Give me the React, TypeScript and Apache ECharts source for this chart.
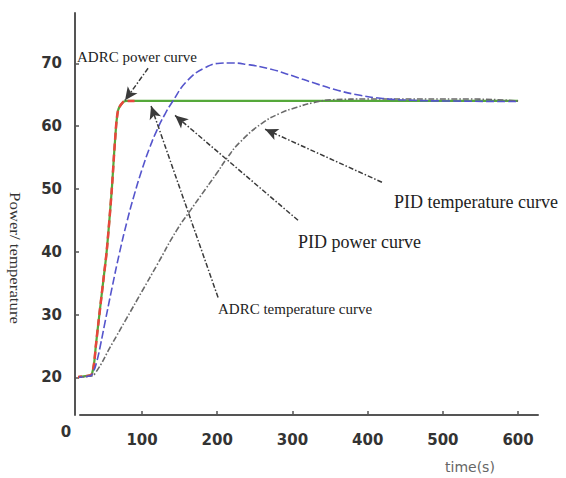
import React, { useEffect, useRef } from "react";
import * as echarts from "echarts";

// axis tick values
const xTickValues = [100, 200, 300, 400, 500, 600];
const yTickValues = [20, 30, 40, 50, 60, 70];

// ADRC temperature curve (green, solid)
const adrcTempT = [10.9, 30.9, 33.5, 36.2, 38.4, 41.9, 48.5, 53.1, 59.7, 64.1, 68.1, 74.7, 80, 200, 400, 600];
const adrcTempV = [20, 20.3, 20.6, 22.2, 24.8, 28.6, 35.4, 40.2, 49.8, 57.7, 62.5, 63.8, 64.0, 64.0, 64.0, 64.0];

// ADRC power curve (red, dashed)
const adrcPowT = [10.9, 30.9, 33.5, 36.2, 38.4, 41.9, 48.5, 53.1, 59.7, 64.1, 68.1, 74.7, 80, 90];
const adrcPowV = [20, 20.3, 20.6, 22.2, 24.8, 28.6, 35.4, 40.2, 49.8, 57.7, 62.5, 63.8, 64.0, 64.0];

// PID power curve (blue, dashed)
const pidPowT = [10.9, 30.9, 35, 40, 45, 50, 60, 70, 80, 90, 100, 110, 120, 130, 140, 160, 184, 204, 217, 240, 270, 300, 330, 360, 390, 420, 460, 500, 600];
const pidPowV = [20, 20.2, 20.8, 22.6, 25.3, 28.3, 34.2, 39.8, 44.8, 49.2, 53.1, 56.5, 59.4, 61.8, 63.8, 67.2, 69.3, 70.0, 70.05, 69.8, 69.1, 68.0, 66.8, 65.7, 64.9, 64.4, 64.1, 64.0, 63.9];

// PID temperature curve (gray, dash-dot)
const pidTempT = [10.9, 30.9, 37.5, 60, 80, 100, 120, 146, 165, 184, 200, 213, 230, 259, 283, 306, 327, 354, 400, 536, 600];
const pidTempV = [20, 20.2, 20.6, 25.3, 29.5, 33.7, 37.9, 43.4, 46.7, 49.9, 52.6, 54.9, 57.4, 60.4, 62.0, 63.0, 63.7, 64.2, 64.3, 64.3, 64.0];

// annotation arrows (data coordinates: [time, value])
const arrowFrom = [[108, 69.2], [201.1, 32.7], [307.4, 45.0], [419, 51.05]];
const arrowTo = [[77.4, 64.1], [112, 63.2], [143.9, 61.7], [263.6, 59.5]];
const arrowCurve = [-0.2, 0, 0, 0];

const pairs = (t: number[], v: number[]) => t.map((x, i) => [x, v[i]]);

const serif = "'Liberation Serif', 'Times New Roman', serif";
const sans = "'DejaVu Sans', Verdana, sans-serif";

export default function App() {
  const ref = useRef<HTMLDivElement>(null);
  useEffect(() => {
    if (!ref.current) return;
    const chart = echarts.init(ref.current, null, { renderer: "svg" });
    const lineCommon = { type: "line", showSymbol: false, clip: false, silent: true, smooth: 0.5 };
    chart.setOption({
      animation: false,
      backgroundColor: "#ffffff",
      grid: { left: 80, right: 28, top: 13, bottom: 63 },
      xAxis: {
        type: "value",
        min: 17.5,
        max: 626.5,
        splitLine: { show: false },
        axisLine: { show: true, lineStyle: { color: "#555", width: 2 } },
        axisTick: { show: true, inside: true, length: 4, customValues: xTickValues, lineStyle: { color: "#555", width: 1.5 } },
        axisLabel: { customValues: xTickValues, margin: 17, color: "#333", fontSize: 15, fontWeight: "bold", fontFamily: sans },
      },
      yAxis: {
        type: "value",
        min: 14,
        max: 78,
        offset: 5,
        splitLine: { show: false },
        axisLine: { show: true, lineStyle: { color: "#555", width: 2 } },
        axisTick: { show: true, inside: true, length: 4, customValues: yTickValues, lineStyle: { color: "#555", width: 1.5 } },
        axisLabel: { customValues: yTickValues, margin: 13, color: "#333", fontSize: 15, fontWeight: "bold", fontFamily: sans },
      },
      series: [
        {
          ...lineCommon,
          name: "ADRC temperature curve",
          smooth: 0.3,
          data: pairs(adrcTempT, adrcTempV),
          lineStyle: { color: "#55a83a", width: 2.2 },
          markLine: {
            silent: true,
            symbol: ["none", "arrow"],
            symbolSize: [9, 13],
            label: { show: false },
            lineStyle: { color: "#3a3a3a", width: 1.5, type: [5, 2, 1.5, 2] },
            data: arrowFrom.map((f, i) => [
              { coord: f, lineStyle: { curveness: arrowCurve[i] } },
              { coord: arrowTo[i] },
            ]),
          },
        },
        {
          ...lineCommon,
          name: "ADRC power curve",
          smooth: 0.3,
          data: pairs(adrcPowT, adrcPowV),
          lineStyle: { color: "#e8463c", width: 2.5, type: [7, 4] },
        },
        {
          ...lineCommon,
          name: "PID temperature curve",
          data: pairs(pidTempT, pidTempV),
          lineStyle: { color: "#6a6a6a", width: 1.6, type: [6, 2, 1.5, 2] },
        },
        {
          ...lineCommon,
          name: "PID power curve",
          data: pairs(pidPowT, pidPowV),
          lineStyle: { color: "#5555cc", width: 1.6, type: [8, 3] },
        },
      ],
      graphic: [
        { type: "text", x: 77, y: 57, style: { text: "ADRC power curve", font: `15px ${serif}`, fill: "#222", align: "left", verticalAlign: "middle" } },
        { type: "text", x: 218, y: 309, style: { text: "ADRC temperature curve", font: `15px ${serif}`, fill: "#222", align: "left", verticalAlign: "middle" } },
        { type: "text", x: 298, y: 242, style: { text: "PID power curve", font: `18px ${serif}`, fill: "#222", align: "left", verticalAlign: "middle" } },
        { type: "text", x: 394, y: 202, style: { text: "PID temperature curve", font: `18px ${serif}`, fill: "#222", align: "left", verticalAlign: "middle" } },
        { type: "text", x: 15, y: 258, rotation: -Math.PI / 2, scaleX: 1.12, style: { text: "Power/ temperature", font: `15px ${serif}`, fill: "#333", align: "center", verticalAlign: "middle" } },
        { type: "text", x: 66, y: 432, style: { text: "0", font: `bold 15px ${sans}`, fill: "#333", align: "center", verticalAlign: "middle" } },
        { type: "text", x: 445, y: 467, style: { text: "time(s)", font: `14px ${sans}`, fill: "#666", align: "left", verticalAlign: "middle" } },
      ],
    });
    return () => chart.dispose();
  }, []);
  return <div ref={ref} style={{ position: "fixed", left: 0, top: 0, width: 566, height: 478 }} />;
}
